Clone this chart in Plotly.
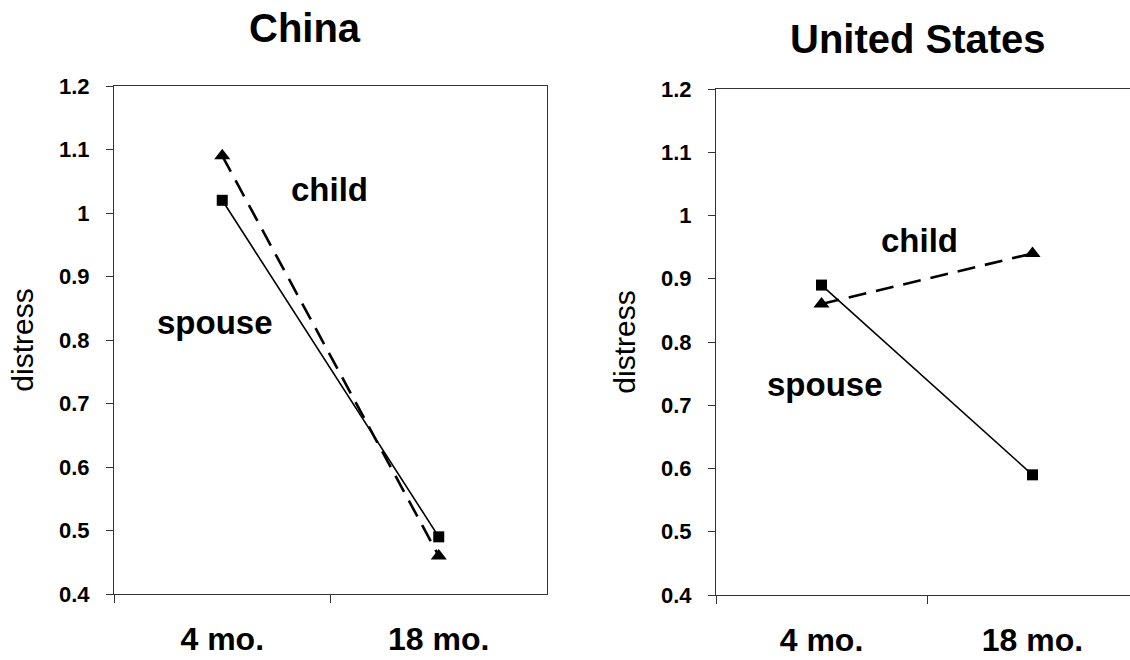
import plotly.graph_objects as go

categories = ["4 mo.", "18 mo."]
china_spouse = [1.02, 0.49]
china_child = [1.09, 0.46]
us_spouse = [0.89, 0.59]
us_child = [0.86, 0.94]
panel_titles = ["China", "United States"]
y_ticks = [0.4, 0.5, 0.6, 0.7, 0.8, 0.9, 1.0, 1.1, 1.2]
y_ticktext = ["0.4", "0.5", "0.6", "0.7", "0.8", "0.9", "1", "1.1", "1.2"]

W, H = 1130, 660
FONT = "Arial, 'Liberation Sans', sans-serif"

fig = go.Figure()

def add_series(xa, ya, spouse, child):
    fig.add_trace(go.Scatter(x=categories, y=spouse, xaxis=xa, yaxis=ya, mode="lines+markers",
                             name="spouse", line=dict(color="black", width=1.6),
                             marker=dict(symbol="square", size=11, color="black"), showlegend=False))
    fig.add_trace(go.Scatter(x=categories, y=child, xaxis=xa, yaxis=ya, mode="lines+markers",
                             name="child", line=dict(color="black", width=2.6, dash="18px,10px"),
                             marker=dict(symbol="triangle-up", size=14, color="black"), showlegend=False))

add_series("x", "y", china_spouse, china_child)
add_series("x2", "y2", us_spouse, us_child)

def xd(a, b):
    return [a / W, b / W]

def yd(top, bottom):
    return [(H - bottom) / H, (H - top) / H]

axis_common_x = dict(type="category", tickson="boundaries", ticks="outside", ticklen=8,
                     tickcolor="#333", showline=True, linecolor="#333", linewidth=1.2,
                     showgrid=False, zeroline=False, ticklabelstandoff=16, automargin=False,
                     tickfont=dict(family=FONT, size=32, color="black", weight="bold"))
axis_common_y = dict(range=[0.4, 1.2], tickvals=y_ticks, ticktext=y_ticktext, ticks="outside",
                     ticklen=7, tickcolor="#333", showline=True, linecolor="#333", linewidth=1.2,
                     showgrid=False, zeroline=False, ticklabelstandoff=12, automargin=False,
                     tickfont=dict(family=FONT, size=22, color="black", weight="bold"),
                     title=dict(text="distress", font=dict(family=FONT, size=30, color="black"), standoff=16))

fig.update_layout(
    template="none",
    width=W, height=H, margin=dict(l=0, r=0, t=0, b=0, autoexpand=False),
    paper_bgcolor="white", plot_bgcolor="white",
    xaxis=dict(domain=xd(114, 547), range=[-0.5, 1.5], mirror=True, anchor="y", **axis_common_x),
    yaxis=dict(domain=yd(86, 594), mirror=True, anchor="x", **axis_common_y),
    xaxis2=dict(domain=xd(716, 1130), range=[-0.5, 0.5 + 203 / 211], mirror=True, anchor="y2", **axis_common_x),
    yaxis2=dict(domain=yd(89, 595), mirror=False, anchor="x2", **axis_common_y),
)

def label(text, cx, cy, size):
    return dict(text=text, x=cx / W, y=(H - cy) / H, xref="paper", yref="paper", showarrow=False,
                xanchor="center", yanchor="middle",
                font=dict(family=FONT, size=size, color="black", weight="bold"))

ann = [
    label(panel_titles[0], 305, 28, 40),
    label(panel_titles[1], 918, 39, 40),
    label("child", 329, 190, 33),
    label("spouse", 215, 322, 33),
    label("child", 919, 240, 33),
    label("spouse", 825, 384, 33),
]
fig.update_layout(annotations=ann)

fig.write_html("out.html", config={"displayModeBar": False},
               post_script="document.body.style.margin='0';document.body.style.overflow='hidden';")
